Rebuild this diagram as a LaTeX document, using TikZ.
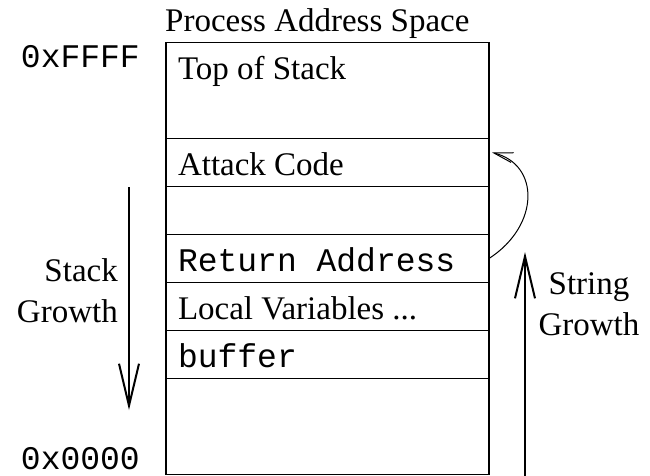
\documentclass[tikz,border=0pt]{standalone}
\usepackage{fontspec}
\setmainfont{Liberation Serif}
\setmonofont{Liberation Mono}
\usetikzlibrary{positioning,calc,arrows.meta}
\tikzset{
  cell/.style={draw,line width=1.2pt,inner xsep=12pt,inner ysep=0pt,outer sep=0pt,
    text width=299pt,align=justify,text height=37pt,text depth=11pt},
  bigcell/.style={cell,text depth=59pt},
  growth/.style={line width=2pt,-{Straight Barb[length=42pt,width=20pt]}},
  addr/.style={anchor=base east,inner sep=0pt,font=\fontsize{33}{41}\selectfont\ttfamily},
}

\begin{document}
\begin{tikzpicture}[x=1pt,y=-1pt,font=\fontsize{33}{41}\selectfont]
        \useasboundingbox (0,0) rectangle (650,475);

        % the stack, top to bottom
        \node[bigcell,anchor=north west] (tos) at (166,42.5) {Top of Stack};
        \node[cell,below=0pt of tos] (atk) {Attack Code};
        \node[cell,below=0pt of atk] (gap) {};
        \node[cell,below=0pt of gap] (ret) {\ttfamily Return Address};
        \node[cell,below=0pt of ret] (loc) {Local Variables ...};
        \node[cell,below=0pt of loc] (buf) {\ttfamily buffer};
        \node[bigcell,below=0pt of buf] (bot) {};

        \node[anchor=base west,inner sep=0pt] (title) at (165,31) {Process Address Space};
        \node[addr] (hi) at (140,67) {0xFFFF};
        \node[addr] (lo) at (140,469) {0x0000};

        \node[align=right,anchor=east,inner sep=0pt] (sglabel) at (118,291) {Stack\\Growth};
        \node[align=center,inner sep=0pt] (strlabel) at (589,304) {String\\Growth};

        \coordinate (sgtop) at (129,187);
        \coordinate (sgtip) at (129,410);
        \coordinate (strbot) at (525,476);
        \coordinate (strtip) at (525,252);
        \draw[growth] (sgtop) -- (sgtip);
        \draw[growth] (strbot) -- (strtip);

        \draw[line width=1pt,-{Straight Barb[length=19pt,width=10pt]}] (ret.east) .. controls +(51,-33) and +(48,12) .. ($(atk.east)+(3,-10)$);
    \end{tikzpicture}
\end{document}
